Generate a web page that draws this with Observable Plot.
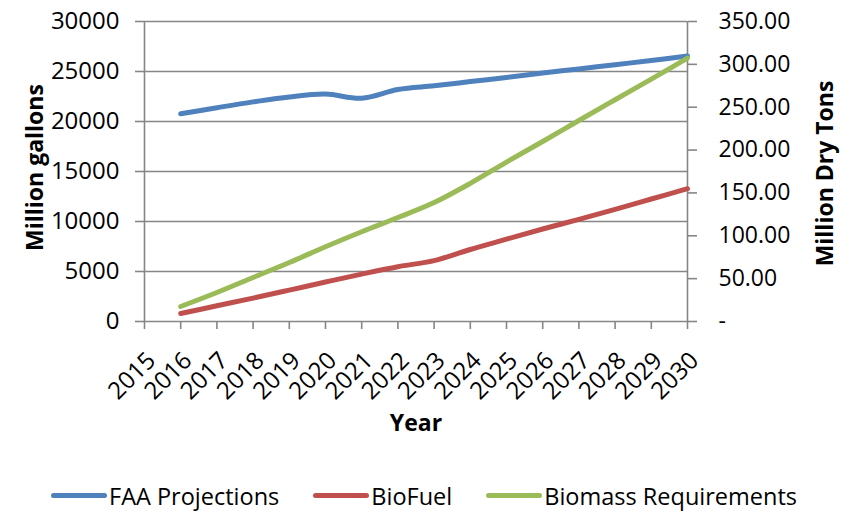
<!DOCTYPE html>
<html>
<head>
<meta charset="utf-8">
<script src="https://cdn.jsdelivr.net/npm/d3@7"></script>
<script src="https://cdn.jsdelivr.net/npm/@observablehq/plot@0.6"></script>
<style>
  html, body { margin: 0; padding: 0; background: #fff; overflow: hidden; }
  body { width: 848px; font-family: "Open Sans", sans-serif; }
  #chart svg { display: block; }
  #legend { height: 31px; display: flex; justify-content: center; align-items: center; gap: 34px; font-size: 23.5px; line-height: 30px; color: #000; white-space: nowrap; }
  .item { display: flex; align-items: center; gap: 2px; flex-shrink: 0; }
  .sw { width: 56px; height: 5px; border-radius: 3px; flex-shrink: 0; }
</style>
</head>
<body>
<div id="chart"></div>
<div id="legend"></div>
<script>
// ---- data ----
const years = [2016, 2017, 2018, 2019, 2020, 2021, 2022, 2023, 2024, 2025, 2026, 2027, 2028, 2029, 2030];
const faaProjections = [20770, 21380, 21960, 22460, 22740, 22330, 23200, 23570, 23990, 24410, 24840, 25260, 25680, 26100, 26540];
const bioFuel = [800, 1570, 2340, 3140, 3950, 4740, 5480, 6090, 7200, 8230, 9250, 10220, 11220, 12250, 13280];
const biomassRequirements = [17.5, 33.8, 51.3, 68.8, 87.2, 104.7, 121.3, 138.8, 161.2, 186, 210, 234.5, 258.7, 282.8, 307.3];
const xTickYears = [2015, 2016, 2017, 2018, 2019, 2020, 2021, 2022, 2023, 2024, 2025, 2026, 2027, 2028, 2029, 2030];
const gallonTicks = [0, 5000, 10000, 15000, 20000, 25000, 30000];
const tonTicks = [0, 50, 100, 150, 200, 250, 300, 350];
const seriesNames = ["FAA Projections", "BioFuel", "Biomass Requirements"];
const seriesColors = ["#4F81BD", "#C0504D", "#9BBB59"];

// ---- build ----
const gallonMax = 30000, tonMax = 350;
const k = gallonMax / tonMax; // right axis mapped onto left scale
const faaData = years.map((y, i) => ({year: y, v: faaProjections[i]}));
const bioData = years.map((y, i) => ({year: y, v: bioFuel[i]}));
const biomassData = years.map((y, i) => ({year: y, v: biomassRequirements[i]}));
const gray = "#868686";

const W = 848, H = 480;
const chart = Plot.plot({
  width: W,
  height: H,
  marginTop: 21,
  marginBottom: H - 321,
  marginLeft: 144,
  marginRight: W - 687,
  style: {fontFamily: "Open Sans", fontSize: "24px", color: "#000", background: "#fff"},
  x: {domain: [2015, 2030]},
  y: {domain: [0, gallonMax]},
  marks: [
    Plot.gridY(gallonTicks, {stroke: gray, strokeOpacity: 1, strokeWidth: 1.6}),
    Plot.ruleX([2015, 2030], {stroke: gray, strokeWidth: 1.6}),
    Plot.axisY(gallonTicks, {anchor: "left", tickFormat: d3.format("d"), tickSize: 9, tickPadding: 16, stroke: gray, strokeWidth: 1.6, fill: "#000", label: null}),
    Plot.axisY(tonTicks.map(t => t * k), {anchor: "right", tickFormat: d => d === 0 ? "-" : (d / k).toFixed(2), tickSize: 9, tickPadding: 22, stroke: gray, strokeWidth: 1.6, fill: "#000", textAnchor: "start", fontSize: 23, label: null}),
    Plot.axisX(xTickYears, {anchor: "bottom", tickSize: 8, stroke: gray, strokeWidth: 1.6, label: null, tickFormat: () => ""}),
    Plot.axisX(xTickYears, {anchor: "bottom", tickFormat: d => String(d), tickRotate: -45, tickSize: 0, tickPadding: 35, dx: 7, fill: "#000", label: null}),
    Plot.lineY(faaData, {x: "year", y: "v", stroke: seriesColors[0], strokeWidth: 5, curve: "catmull-rom", strokeLinecap: "round"}),
    Plot.lineY(bioData, {x: "year", y: "v", stroke: seriesColors[1], strokeWidth: 5, curve: "catmull-rom", strokeLinecap: "round"}),
    Plot.lineY(biomassData, {x: "year", y: d => d.v * k, stroke: seriesColors[2], strokeWidth: 5, curve: "catmull-rom", strokeLinecap: "round"}),
    Plot.text(["Million gallons"], {frameAnchor: "left", textAnchor: "middle", rotate: -90, dx: -109, dy: -4, fontWeight: "bold", fontSize: 23, fill: "#000"}),
    Plot.text(["Million Dry Tons"], {frameAnchor: "right", textAnchor: "middle", rotate: -90, dx: 138, dy: 2, fontWeight: "bold", fontSize: 23, fill: "#000"}),
    Plot.text(["Year"], {frameAnchor: "bottom", dy: 109, fontWeight: "bold", fontSize: 23, fill: "#000"})
  ]
});
document.getElementById("chart").append(chart);

const legend = document.getElementById("legend");
seriesNames.forEach((name, i) => {
  const item = document.createElement("div");
  item.className = "item";
  const sw = document.createElement("span");
  sw.className = "sw";
  sw.style.background = seriesColors[i];
  const label = document.createElement("span");
  label.textContent = name;
  item.append(sw, label);
  legend.append(item);
});
</script>
</body>
</html>
